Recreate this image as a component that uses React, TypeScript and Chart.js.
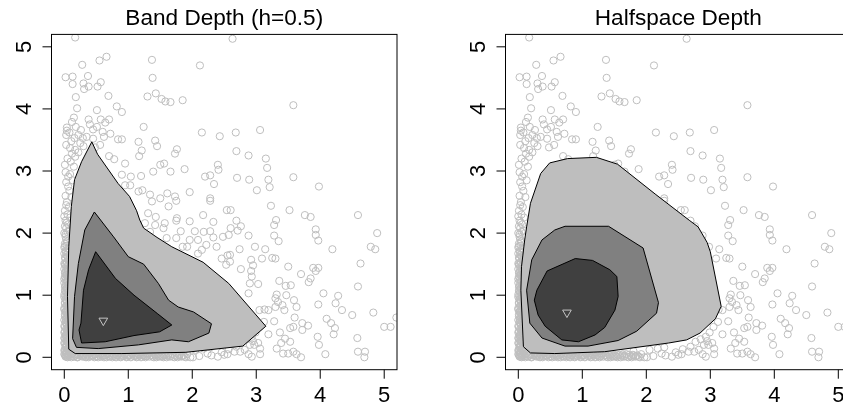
import React, { useEffect, useRef } from "react";
import { Chart, registerables } from "chart.js";

Chart.register(...registerables);

// ---------- axes / titles ----------
const X_TICKS = [0, 1, 2, 3, 4, 5];
const Y_TICKS = [0, 1, 2, 3, 4, 5];
const AXIS_MIN = -0.2;
const AXIS_MAX = 5.2;
const TITLE_BAND = "Band Depth (h=0.5)";
const TITLE_HALF = "Halfspace Depth";

// ---------- scatter data (same sample in both panels) ----------
const POINTS_TOP = [
  [0.17, 5.15], [2.63, 5.13], [0.28, 4.71], [0.55, 4.78], [0.66, 4.84], [1.37, 4.79], [2.12, 4.7],
  [0.02, 4.51], [0.13, 4.52], [0.13, 4.4], [0.37, 4.53], [0.3, 4.41], [0.31, 4.32], [0.38, 4.36], [0.52, 4.36], [0.57, 4.43], [1.38, 4.5],
  [0.18, 4.19], [0.69, 4.21], [1.3, 4.2], [1.43, 4.25], [1.52, 4.16], [1.58, 4.12], [1.66, 4.11], [1.85, 4.14], [3.58, 4.06],
  [0.2, 4.01], [0.51, 3.98], [0.82, 4.04], [0.9, 3.95],
  [0.15, 3.86], [0.12, 3.79], [0.38, 3.83], [0.57, 3.83], [0.64, 3.78], [0.7, 3.83], [0.4, 3.75],
  [0.04, 3.7], [0.04, 3.65], [0.18, 3.71], [0.26, 3.66], [0.45, 3.67], [0.51, 3.71], [0.6, 3.63], [0.72, 3.6], [1.24, 3.71],
  [2.15, 3.62], [2.68, 3.62], [3.06, 3.66], [2.43, 3.56],
  [0.16, 3.53], [0.29, 3.53], [0.62, 3.55], [0.03, 3.58], [0.08, 3.62], [0.22, 3.58], [0.35, 3.55],
];

const POINTS_UPPER = [
  [0.84, 3.51], [0.9, 3.51], [1.16, 3.47], [1.42, 3.49], [1.45, 3.4], [0.11, 3.48], [0.45, 3.52],
  [0.09, 3.37], [0.17, 3.34], [0.25, 3.45], [0.17, 3.23], [0.56, 3.42], [0.48, 3.38], [0.3, 3.4], [0.03, 3.42], [0.12, 3.28], [0.22, 3.3],
  [0.7, 3.24], [0.78, 3.19], [0.95, 3.12], [1.17, 3.24], [1.21, 3.33], [1.76, 3.35], [1.73, 3.28], [2.69, 3.32], [2.88, 3.25], [3.15, 3.2], [3.17, 3.05],
  [0.01, 3.1], [0.15, 3.07], [0.05, 3.2], [0.1, 3.15],
  [1.04, 2.91], [1.2, 2.92], [1.39, 2.99], [1.5, 3.1], [1.56, 3.12], [1.66, 2.99], [1.88, 3.03], [2.4, 3.1], [2.41, 3.02], [2.2, 2.91], [2.28, 2.93],
  [2.34, 2.79], [2.7, 2.89], [2.89, 2.86], [3.19, 2.86], [3.58, 2.9], [3.01, 2.69], [3.21, 2.74], [3.98, 2.75],
  [0.06, 2.91], [0.06, 2.75], [0.02, 2.98], [0.09, 2.95], [0.13, 2.85], [0.03, 2.82], [0.08, 2.68],
  [0.95, 2.77], [1.03, 2.77], [1.16, 2.67], [1.22, 2.69], [1.34, 2.62], [1.61, 2.64], [1.96, 2.66], [1.73, 2.59], [0.9, 2.94],
  [2.28, 2.56], [1.5, 2.56], [1.37, 2.51], [1.75, 2.52], [2.28, 2.52], [0.02, 2.6], [0.11, 2.58],
];

const POINTS_MIDDLE = [
  [0.04, 2.5], [0.07, 2.42], [0.01, 2.36], [0.05, 2.3], [0.09, 2.25], [0.02, 2.2], [0.06, 2.14], [0.03, 2.08], [0.08, 2.04], [0.0, 2.0],
  [0.03, 2.45], [0.0, 2.27], [0.04, 2.17], [0.01, 2.11], [0.05, 2.02], [0.02, 1.98],
  [1.63, 2.43], [1.31, 2.32], [1.43, 2.26], [1.57, 2.16], [1.42, 2.13], [1.26, 2.16], [1.76, 2.24], [1.75, 2.2],
  [1.96, 2.19], [2.17, 2.29], [2.54, 2.37], [2.33, 2.18], [1.34, 2.02], [1.55, 2.08], [1.6, 1.92], [1.75, 1.92], [1.82, 2.03],
  [1.96, 1.89], [2.09, 1.89], [2.04, 2.03], [2.18, 2.02], [2.28, 2.03], [2.33, 1.93], [1.85, 1.78], [1.92, 1.78], [2.09, 1.67],
  [2.15, 1.73], [2.22, 1.81], [2.38, 1.78], [2.48, 1.94], [2.53, 1.49], [2.46, 1.59], [2.59, 1.65],
  [2.6, 2.37], [3.23, 2.44], [3.52, 2.37], [3.76, 2.29], [3.85, 2.26], [4.59, 2.29], [2.69, 2.2], [3.31, 2.21], [3.28, 2.13],
  [2.6, 2.08], [2.76, 2.11], [2.71, 2.04], [2.57, 1.97], [2.88, 1.96], [3.28, 1.96], [3.35, 1.87], [3.93, 2.06], [3.93, 1.97],
  [3.97, 1.88], [4.89, 2.0], [4.79, 1.78], [4.86, 1.74], [4.19, 1.74], [2.98, 1.78], [3.14, 1.74], [2.74, 1.74], [2.55, 1.64],
  [4.63, 1.51], [2.92, 1.57], [3.09, 1.59], [3.25, 1.6], [3.3, 1.59], [2.59, 1.54],
];

const POINTS_LOWER = [
  [2.95, 1.48], [3.5, 1.46], [2.76, 1.42], [2.92, 1.39], [2.93, 1.3], [3.7, 1.34], [3.89, 1.44], [3.97, 1.44], [3.93, 1.39],
  [3.85, 1.27], [3.82, 1.21], [3.36, 1.23], [3.46, 1.15], [3.54, 1.16], [3.47, 1.0], [3.32, 1.01], [3.3, 0.95], [3.34, 0.89],
  [3.19, 0.76], [3.13, 0.77], [3.3, 0.81], [3.41, 0.84], [3.44, 0.76], [3.63, 0.81], [3.6, 0.64], [3.72, 0.55], [3.81, 0.51],
  [3.72, 0.44], [3.53, 0.47], [3.58, 0.49], [3.37, 0.4], [3.19, 0.37], [3.45, 0.3], [3.53, 0.25], [3.32, 0.14], [3.39, 0.23],
  [3.42, 0.06], [3.5, 0.06], [3.58, 0.09], [3.63, 0.05], [3.7, 0.0], [3.96, 0.33], [3.98, 0.2], [4.08, 0.05], [4.58, 0.31],
  [4.59, 0.09], [4.7, 0.09], [4.69, 0.0], [4.1, 0.62], [4.17, 0.55], [4.21, 0.37], [4.23, 0.47], [4.34, 0.76], [4.28, 0.99],
  [4.24, 0.87], [4.5, 0.68], [4.83, 0.72], [5.0, 0.49], [5.1, 0.49], [5.19, 0.64], [4.59, 1.14], [4.05, 1.03], [3.97, 0.85],
  [3.03, 0.23], [2.95, 0.26], [2.9, 0.2], [3.06, 0.14], [2.82, 0.12], [2.75, 0.09], [2.88, 0.05], [2.93, 0.01], [3.06, 0.05],
  [2.66, 0.09], [2.55, 0.05], [3.03, 1.18], [2.9, 1.19], [2.88, 1.03], [3.05, 0.76], [3.59, 0.92],
  [3.12, 0.57], [3.05, 0.49], [2.99, 0.4], [2.93, 0.33], [2.85, 0.29], [2.77, 0.25], [2.97, 0.2], [3.28, 0.58],
  [2.69, 0.17], [2.57, 0.13], [2.4, 0.01], [2.24, 0.06], [2.11, 0.02], [2.01, 0.0], [2.5, 0.04], [2.3, 0.03], [2.46, 0.08],
  [2.05, 0.12], [2.18, 0.14], [1.8, 0.1], [2.28, 0.16],
];

// dense band of points hugging the y axis
const LEFT_BAND_Y = [
  0.01, 0.03, 0.04, 0.06, 0.08, 0.09, 0.11, 0.13, 0.14, 0.16, 0.19, 0.2, 0.22, 0.25, 0.26, 0.28, 0.31, 0.33, 0.34, 0.37,
  0.39, 0.41, 0.43, 0.46, 0.47, 0.5, 0.52, 0.54, 0.57, 0.59, 0.61, 0.63, 0.66, 0.68, 0.7, 0.73, 0.75, 0.77, 0.8, 0.82,
  0.84, 0.87, 0.89, 0.92, 0.94, 0.96, 0.99, 1.01, 1.04, 1.06, 1.08, 1.11, 1.13, 1.16, 1.18, 1.21, 1.23, 1.26, 1.28, 1.31,
  1.33, 1.36, 1.38, 1.41, 1.43, 1.46, 1.49, 1.51, 1.54, 1.57, 1.6, 1.62, 1.65, 1.68, 1.71, 1.74, 1.77, 1.8, 1.83, 1.87,
  1.9, 1.94,
];
const LEFT_BAND_X = [
  0.02, 0.06, 0.01, 0.04, 0.08, 0.03, 0.0, 0.05, 0.07, 0.02, 0.04, 0.09, 0.01, 0.06, 0.03, 0.05, 0.0, 0.08, 0.02, 0.04,
  0.07, 0.01, 0.05, 0.03, 0.06, 0.0, 0.08, 0.04, 0.02, 0.07, 0.03, 0.05, 0.01, 0.06, 0.09, 0.02, 0.04, 0.0, 0.07, 0.03,
  0.05, 0.01, 0.08, 0.04, 0.02, 0.06, 0.03, 0.0, 0.05, 0.07, 0.02, 0.04, 0.01, 0.06, 0.08, 0.03, 0.05, 0.0, 0.02, 0.07,
  0.04, 0.01, 0.06, 0.03, 0.05, 0.09, 0.02, 0.0, 0.04, 0.07, 0.01, 0.05, 0.03, 0.06, 0.02, 0.08, 0.0, 0.04, 0.01, 0.05,
  0.03, 0.02,
];
const LEFT_BAND2_Y = [
  0.02, 0.05, 0.07, 0.1, 0.12, 0.15, 0.17, 0.18, 0.21, 0.23, 0.24, 0.27, 0.29, 0.3, 0.32, 0.35, 0.36, 0.38, 0.4, 0.42,
  0.45, 0.48, 0.49, 0.51, 0.53, 0.56, 0.58, 0.6, 0.62, 0.64, 0.67, 0.69, 0.71, 0.72, 0.74, 0.76, 0.79, 0.81, 0.83, 0.85,
  0.88, 0.9, 0.93, 0.95, 0.97, 1.0, 1.03, 1.05, 1.07, 1.1, 1.12, 1.15, 1.17, 1.2, 1.22, 1.25, 1.27, 1.3, 1.32, 1.35,
  1.37, 1.4, 1.42, 1.45, 1.48, 1.5, 1.53, 1.56, 1.59, 1.63, 1.67, 1.7, 1.75, 1.79, 1.85,
];
const LEFT_BAND2_X = [
  0.05, 0.0, 0.03, 0.07, 0.01, 0.06, 0.04, 0.02, 0.08, 0.0, 0.05, 0.03, 0.07, 0.01, 0.04, 0.06, 0.02, 0.09, 0.0, 0.05,
  0.03, 0.06, 0.01, 0.08, 0.04, 0.02, 0.05, 0.0, 0.07, 0.03, 0.06, 0.01, 0.04, 0.08, 0.02, 0.05, 0.0, 0.06, 0.03, 0.07,
  0.01, 0.04, 0.02, 0.06, 0.0, 0.05, 0.08, 0.03, 0.01, 0.06, 0.04, 0.02, 0.07, 0.0, 0.05, 0.03, 0.06, 0.01, 0.04, 0.08,
  0.02, 0.05, 0.0, 0.03, 0.06, 0.01, 0.04, 0.07, 0.02, 0.05, 0.0, 0.03, 0.06, 0.01, 0.04,
];

// dense band of points hugging the x axis
const BOTTOM_BAND_X = [
  0.02, 0.05, 0.07, 0.1, 0.12, 0.15, 0.17, 0.2, 0.22, 0.25, 0.27, 0.3, 0.33, 0.35, 0.38, 0.4, 0.43, 0.45, 0.48, 0.5,
  0.53, 0.55, 0.58, 0.6, 0.63, 0.66, 0.68, 0.71, 0.73, 0.76, 0.78, 0.81, 0.84, 0.86, 0.89, 0.91, 0.94, 0.97, 0.99, 1.02,
  1.05, 1.07, 1.1, 1.13, 1.15, 1.18, 1.21, 1.24, 1.27, 1.29, 1.32, 1.35, 1.38, 1.41, 1.44, 1.47, 1.5, 1.53, 1.56, 1.6,
  1.63, 1.66, 1.7, 1.73, 1.77, 1.8, 1.84, 1.88, 1.92, 1.97,
];
const BOTTOM_BAND_Y = [
  0.03, 0.0, 0.05, 0.02, 0.06, 0.01, 0.04, 0.0, 0.03, 0.07, 0.02, 0.05, 0.01, 0.04, 0.0, 0.06, 0.02, 0.03, 0.05, 0.01,
  0.0, 0.04, 0.06, 0.02, 0.03, 0.0, 0.05, 0.01, 0.07, 0.02, 0.04, 0.0, 0.03, 0.06, 0.01, 0.02, 0.05, 0.0, 0.03, 0.04,
  0.01, 0.06, 0.02, 0.0, 0.05, 0.03, 0.01, 0.04, 0.0, 0.02, 0.06, 0.03, 0.01, 0.05, 0.0, 0.02, 0.04, 0.01, 0.03, 0.0,
  0.05, 0.02, 0.01, 0.04, 0.0, 0.03, 0.02, 0.01, 0.05, 0.0,
];
const BOTTOM_BAND2_X = [
  0.04, 0.08, 0.11, 0.13, 0.16, 0.19, 0.21, 0.24, 0.26, 0.29, 0.31, 0.34, 0.36, 0.39, 0.42, 0.44, 0.47, 0.49, 0.52, 0.54,
  0.57, 0.59, 0.62, 0.64, 0.67, 0.7, 0.72, 0.75, 0.77, 0.8, 0.83, 0.85, 0.88, 0.9, 0.93, 0.95, 0.98, 1.01, 1.04, 1.06,
  1.09, 1.12, 1.14, 1.17, 1.2, 1.23, 1.26, 1.3, 1.33, 1.37, 1.4, 1.43, 1.46, 1.49, 1.52, 1.55, 1.58, 1.62, 1.65, 1.69,
  1.72, 1.76, 1.79, 1.83, 1.86, 1.9,
];
const BOTTOM_BAND2_Y = [
  0.01, 0.04, 0.0, 0.06, 0.02, 0.05, 0.0, 0.03, 0.06, 0.01, 0.04, 0.0, 0.05, 0.02, 0.07, 0.03, 0.0, 0.05, 0.02, 0.06,
  0.01, 0.04, 0.0, 0.03, 0.06, 0.02, 0.04, 0.0, 0.05, 0.01, 0.03, 0.06, 0.0, 0.04, 0.02, 0.05, 0.01, 0.03, 0.0, 0.06,
  0.02, 0.04, 0.01, 0.05, 0.0, 0.03, 0.02, 0.06, 0.01, 0.04, 0.0, 0.03, 0.05, 0.01, 0.02, 0.0, 0.04, 0.03, 0.01, 0.05,
  0.0, 0.02, 0.04, 0.01, 0.03, 0.0,
];

// ---------- depth contours ----------
const BAND_OUTER = [
  [0.43, 3.47], [0.52, 3.27], [0.84, 2.8], [1.02, 2.59], [1.13, 2.36], [1.18, 2.21], [1.24, 2.08], [1.45, 1.93],
  [1.68, 1.78], [2.17, 1.53], [2.57, 1.19], [3.15, 0.5], [2.79, 0.18], [1.9, 0.08], [0.9, 0.06], [0.17, 0.06],
  [0.07, 0.13], [0.05, 0.98], [0.07, 1.78], [0.11, 2.43], [0.16, 2.86], [0.27, 3.15], [0.43, 3.47],
];
const BAND_MID = [
  [0.47, 2.34], [0.77, 1.94], [1.0, 1.62], [1.24, 1.5], [1.47, 1.19], [1.63, 0.92], [1.78, 0.81], [2.02, 0.73],
  [2.3, 0.54], [2.26, 0.39], [1.94, 0.25], [1.68, 0.28], [1.16, 0.2], [0.53, 0.14], [0.19, 0.16], [0.13, 0.3],
  [0.16, 0.98], [0.22, 1.51], [0.32, 2.05], [0.47, 2.34],
];
const BAND_INNER = [
  [0.49, 1.7], [0.8, 1.27], [1.09, 1.0], [1.46, 0.7], [1.68, 0.52], [1.49, 0.41], [1.09, 0.35], [0.64, 0.25],
  [0.27, 0.23], [0.23, 0.44], [0.26, 0.55], [0.3, 1.08], [0.38, 1.41], [0.49, 1.7],
];
const BAND_MEDIAN = [[0.61, 0.59]];

const HALF_OUTER = [
  [0.08, 0.17], [0.04, 1.08], [0.05, 1.46], [0.1, 1.89], [0.13, 2.1], [0.19, 2.48], [0.35, 2.96], [0.49, 3.13],
  [0.77, 3.2], [1.22, 3.22], [1.55, 3.11], [2.15, 2.62], [2.68, 2.2], [2.81, 2.1], [2.95, 1.85], [3.0, 1.7],
  [3.17, 0.82], [3.08, 0.62], [2.84, 0.39], [2.63, 0.28], [2.35, 0.23], [1.35, 0.09], [0.57, 0.06], [0.19, 0.07],
  [0.08, 0.17],
];
const HALF_MID = [
  [0.73, 2.11], [1.41, 2.11], [1.95, 1.76], [2.19, 0.88], [2.16, 0.71], [1.85, 0.42], [1.56, 0.27], [1.09, 0.18],
  [0.73, 0.18], [0.37, 0.31], [0.18, 0.55], [0.13, 1.08], [0.21, 1.57], [0.37, 1.89], [0.57, 2.05], [0.73, 2.11],
];
const HALF_INNER = [
  [0.89, 1.59], [1.16, 1.56], [1.43, 1.41], [1.54, 1.3], [1.56, 0.98], [1.51, 0.76], [1.35, 0.48], [1.2, 0.36],
  [0.94, 0.25], [0.68, 0.28], [0.42, 0.5], [0.31, 0.68], [0.25, 0.92], [0.29, 1.08], [0.45, 1.39], [0.89, 1.59],
];
const HALF_MEDIAN = [[0.76, 0.72]];

// ---------- helpers ----------
const FONT = '"Liberation Sans", Arial, Helvetica, sans-serif';
const toXY = (pts: number[][]) => pts.map(([x, y]) => ({ x, y }));
const zipXY = (xs: number[], ys: number[]) =>
  xs.slice(0, Math.min(xs.length, ys.length)).map((x, i) => ({ x, y: ys[i] }));

const ALL_POINTS = [
  ...zipXY(LEFT_BAND_X, LEFT_BAND_Y),
  ...zipXY(LEFT_BAND2_X, LEFT_BAND2_Y),
  ...zipXY(BOTTOM_BAND_X, BOTTOM_BAND_Y),
  ...zipXY(BOTTOM_BAND2_X, BOTTOM_BAND2_Y),
  ...toXY(POINTS_TOP),
  ...toXY(POINTS_UPPER),
  ...toXY(POINTS_MIDDLE),
  ...toXY(POINTS_LOWER),
];

const rAxesPlugin = {
  id: "rAxes",
  afterDraw(chart: any) {
    const opts = chart.options.plugins.rAxes || {};
    const { ctx, chartArea } = chart;
    const { left, right, top, bottom } = chartArea;
    const xs = chart.scales.x;
    const ys = chart.scales.y;
    ctx.save();
    ctx.strokeStyle = "#000";
    ctx.lineWidth = 1;
    ctx.strokeRect(left, top, right - left, bottom - top);
    ctx.beginPath();
    X_TICKS.forEach((v) => {
      const px = xs.getPixelForValue(v);
      ctx.moveTo(px, bottom);
      ctx.lineTo(px, bottom + 9);
    });
    Y_TICKS.forEach((v) => {
      const py = ys.getPixelForValue(v);
      ctx.moveTo(left, py);
      ctx.lineTo(left - 9, py);
    });
    ctx.stroke();
    ctx.fillStyle = "#000";
    ctx.font = `22px ${FONT}`;
    ctx.textAlign = "center";
    ctx.textBaseline = "alphabetic";
    X_TICKS.forEach((v) => ctx.fillText(String(v), xs.getPixelForValue(v), bottom + 32));
    Y_TICKS.forEach((v) => {
      ctx.save();
      ctx.translate(left - 21, ys.getPixelForValue(v));
      ctx.rotate(-Math.PI / 2);
      ctx.fillText(String(v), 0, 0);
      ctx.restore();
    });
    ctx.font = `22.6px ${FONT}`;
    ctx.fillText(opts.title || "", (left + right) / 2, 25);
    ctx.restore();
  },
};

type PanelProps = {
  left: number;
  width: number;
  padding: { left: number; right: number; top: number; bottom: number };
  title: string;
  outer: number[][];
  mid: number[][];
  inner: number[][];
  median: number[][];
};

function polygonDataset(pts: number[][], fillColor: string, order: number) {
  return {
    type: "line" as const,
    data: toXY(pts),
    fill: "shape",
    backgroundColor: fillColor,
    borderColor: "#000",
    borderWidth: 1,
    pointRadius: 0,
    tension: 0,
    order,
  };
}

function Panel({ left, width, padding, title, outer, mid, inner, median }: PanelProps) {
  const ref = useRef<HTMLCanvasElement>(null);
  useEffect(() => {
    const chart = new Chart(ref.current as HTMLCanvasElement, {
      type: "scatter",
      data: {
        datasets: [
          {
            type: "scatter",
            data: toXY(median),
            pointStyle: "triangle",
            rotation: 180,
            pointRadius: 5,
            borderColor: "#c4c4c4",
            backgroundColor: "rgba(0,0,0,0)",
            borderWidth: 1,
            order: 0,
          } as any,
          polygonDataset(inner, "#404040", 1) as any,
          polygonDataset(mid, "#808080", 2) as any,
          polygonDataset(outer, "#bebebe", 3) as any,
          {
            type: "scatter",
            data: ALL_POINTS,
            pointStyle: "circle",
            pointRadius: 3.6,
            borderColor: "#bebebe",
            backgroundColor: "rgba(0,0,0,0)",
            borderWidth: 1,
            clip: 0,
            order: 4,
          } as any,
        ],
      },
      options: {
        responsive: false,
        animation: false,
        events: [],
        layout: { padding },
        plugins: {
          legend: { display: false },
          tooltip: { enabled: false },
          rAxes: { title },
        } as any,
        scales: {
          x: { type: "linear", min: AXIS_MIN, max: AXIS_MAX, display: false },
          y: { type: "linear", min: AXIS_MIN, max: AXIS_MAX, display: false },
        },
      },
      plugins: [rAxesPlugin],
    });
    return () => chart.destroy();
  }, []);
  return (
    <canvas
      ref={ref}
      width={width}
      height={405}
      style={{ position: "absolute", left, top: 0, width, height: 405 }}
    />
  );
}

export default function App() {
  return (
    <div
      style={{
        position: "fixed",
        left: 0,
        top: 0,
        width: 843,
        height: 405,
        overflow: "hidden",
        background: "#fff",
      }}
    >
      <Panel
        left={0}
        width={421}
        padding={{ left: 51.5, right: 24, top: 34.4, bottom: 35.3 }}
        title={TITLE_BAND}
        outer={BAND_OUTER}
        mid={BAND_MID}
        inner={BAND_INNER}
        median={BAND_MEDIAN}
      />
      <Panel
        left={421}
        width={440}
        padding={{ left: 84.5, right: 9.9, top: 34.4, bottom: 35.3 }}
        title={TITLE_HALF}
        outer={HALF_OUTER}
        mid={HALF_MID}
        inner={HALF_INNER}
        median={HALF_MEDIAN}
      />
    </div>
  );
}
